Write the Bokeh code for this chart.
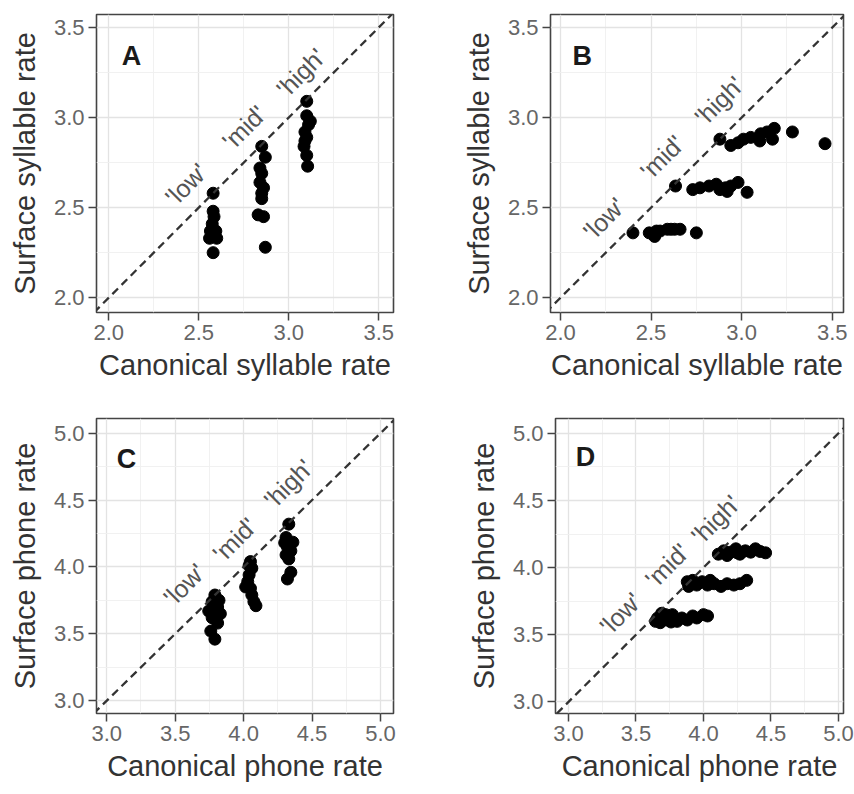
from bokeh.plotting import figure
from bokeh.layouts import column, row
from bokeh.models import Slope, Label, FixedTicker, Range1d, NumeralTickFormatter
from bokeh.embed import file_html
from bokeh.resources import INLINE

# ---------------- data ----------------
group_labels = ["'low'", "'mid'", "'high'"]

# Panel A: canonical vs surface syllable rate
A_canonical = [2.58, 2.58, 2.585, 2.575, 2.565, 2.595, 2.56, 2.60, 2.58, 2.575,
               2.85, 2.87, 2.84, 2.85, 2.84, 2.86, 2.85, 2.83, 2.86, 2.87, 2.85,
               3.10, 3.10, 3.12, 3.09, 3.10, 3.085, 3.10, 3.105, 3.11, 3.09]
A_surface = [2.58, 2.48, 2.45, 2.41, 2.37, 2.37, 2.33, 2.33, 2.25, 2.36,
             2.84, 2.78, 2.72, 2.69, 2.64, 2.61, 2.58, 2.46, 2.45, 2.28, 2.55,
             3.09, 3.01, 2.98, 2.92, 2.89, 2.84, 2.79, 2.73, 2.96, 2.87]

# Panel B
B_canonical = [2.40, 2.49, 2.52, 2.55, 2.59, 2.63, 2.66, 2.75, 2.53, 2.61,
               2.635, 2.73, 2.77, 2.82, 2.86, 2.88, 2.92, 2.94, 2.98, 3.03, 2.91,
               2.88, 2.94, 2.98, 3.01, 3.05, 3.10, 3.105, 3.14, 3.18, 3.17, 3.28, 3.46]
B_surface = [2.36, 2.36, 2.34, 2.37, 2.38, 2.38, 2.38, 2.36, 2.37, 2.38,
             2.62, 2.60, 2.61, 2.62, 2.63, 2.60, 2.59, 2.62, 2.64, 2.585, 2.61,
             2.88, 2.845, 2.86, 2.88, 2.89, 2.87, 2.91, 2.92, 2.94, 2.88, 2.92, 2.855]

# Panel C
C_canonical = [3.79, 3.77, 3.81, 3.745, 3.83, 3.77, 3.81, 3.76, 3.79, 3.78, 3.82,
               4.05, 4.06, 4.04, 4.03, 4.05, 4.015, 4.06, 4.075, 4.09, 4.04,
               4.33, 4.31, 4.36, 4.32, 4.345, 4.31, 4.33, 4.345, 4.32, 4.30]
C_surface = [3.79, 3.74, 3.70, 3.67, 3.65, 3.62, 3.58, 3.52, 3.46, 3.63, 3.75,
             4.04, 3.99, 3.94, 3.89, 3.84, 3.85, 3.79, 3.74, 3.71, 4.01,
             4.32, 4.22, 4.185, 4.15, 4.12, 4.09, 4.06, 3.96, 3.91, 4.18]

# Panel D
D_canonical = [3.66, 3.69, 3.68, 3.73, 3.77, 3.805, 3.84, 3.88, 3.92, 3.95, 4.00, 4.03, 3.72, 3.645, 3.76,
               3.88, 3.92, 3.95, 3.99, 4.03, 4.08, 4.13, 4.175, 4.225, 4.27, 4.32, 4.05, 3.89,
               4.11, 4.15, 4.20, 4.24, 4.27, 4.31, 4.35, 4.385, 4.42, 4.46, 4.175, 4.25]
D_surface = [3.625, 3.66, 3.59, 3.61, 3.65, 3.60, 3.625, 3.61, 3.64, 3.625, 3.65, 3.64, 3.65, 3.60, 3.595,
             3.895, 3.905, 3.87, 3.895, 3.87, 3.88, 3.86, 3.88, 3.87, 3.88, 3.905, 3.905, 3.86,
             4.10, 4.125, 4.115, 4.14, 4.10, 4.125, 4.115, 4.14, 4.12, 4.11, 4.09, 4.11]

syl_ticks = [2.0, 2.5, 3.0, 3.5]
syl_minor = [2.25, 2.75, 3.25]
phone_ticks = [3.0, 3.5, 4.0, 4.5, 5.0]
phone_minor = [3.25, 3.75, 4.25, 4.75]

FONT = "Liberation Sans"


def panel(xs, ys, xrange_, yrange_, ticks, minor, letter, letter_xy, label_xy,
          xlabel, ylabel, width, height, left, right, top, bottom):
    p = figure(width=width, height=height, output_backend="svg", toolbar_location=None,
               x_range=Range1d(*xrange_), y_range=Range1d(*yrange_),
               min_border_left=left, min_border_right=right,
               min_border_top=top, min_border_bottom=bottom)
    p.background_fill_color = "white"
    p.border_fill_color = "white"
    p.outline_line_color = "#444444"
    p.outline_line_width = 1.6
    for ax, lab in ((p.xaxis[0], xlabel), (p.yaxis[0], ylabel)):
        ax.ticker = FixedTicker(ticks=ticks, minor_ticks=minor)
        ax.formatter = NumeralTickFormatter(format="0.0")
        ax.axis_label = lab
        ax.axis_line_color = None
        ax.major_tick_line_color = "#444444"
        ax.major_tick_line_width = 1.5
        ax.major_tick_out = 8
        ax.major_tick_in = 0
        ax.minor_tick_out = 0
        ax.minor_tick_in = 0
        ax.major_label_text_font = FONT
        ax.major_label_text_font_size = "22px"
        ax.major_label_text_color = "#666666"
        ax.major_label_standoff = 4
        ax.axis_label_text_font = FONT
        ax.axis_label_text_font_size = "29px"
        ax.axis_label_text_font_style = "normal"
        ax.axis_label_text_color = "#333333"
    p.xaxis.axis_label_standoff = 6
    p.yaxis.axis_label_standoff = 10
    p.grid.grid_line_color = "#e3e3e3"
    p.grid.grid_line_width = 1.3
    p.grid.minor_grid_line_color = "#efefef"
    p.grid.minor_grid_line_width = 0.9
    p.add_layout(Slope(gradient=1, y_intercept=0, line_color="#333333",
                       line_width=2.3, line_dash="8 5"))
    p.scatter(xs, ys, size=12, color="black")
    for txt, (lx, ly) in zip(group_labels, label_xy):
        p.add_layout(Label(x=lx, y=ly, text=txt, angle=45, angle_units="deg",
                           text_align="center", text_baseline="middle",
                           text_font=FONT, text_font_size="25px", text_color="#555555"))
    p.add_layout(Label(x=letter_xy[0], y=letter_xy[1], text=letter,
                       text_align="center", text_baseline="middle",
                       text_font=FONT, text_font_size="27px", text_font_style="bold",
                       text_color="#1a1a1a"))
    return p


pA = panel(A_canonical, A_surface, (1.932, 3.582), (1.918, 3.572), syl_ticks, syl_minor,
           "A", (2.126, 3.344), [(2.43, 2.63), (2.752, 2.946), (3.067, 3.25)],
           "Canonical syllable rate", "Surface syllable rate",
           455, 400, 96, 62, 14, 88)
pB = panel(B_canonical, B_surface, (1.945, 3.562), (1.918, 3.572), syl_ticks, syl_minor,
           "B", (2.12, 3.344), [(2.24, 2.44), (2.56, 2.78), (2.875, 3.094)],
           "Canonical syllable rate", "Surface syllable rate",
           399, 400, 95, 11, 14, 88)
pC = panel(C_canonical, C_surface, (2.925, 5.095), (2.904, 5.11), phone_ticks, phone_minor,
           "C", (3.145, 4.81), [(3.566, 3.869), (3.934, 4.205), (4.326, 4.624)],
           "Canonical phone rate", "Surface phone rate",
           455, 394, 96, 62, 15, 81)
pD = panel(D_canonical, D_surface, (2.904, 5.037), (2.914, 5.11), phone_ticks, phone_minor,
           "D", (3.126, 4.826), [(3.385, 3.66), (3.73, 4.017), (4.089, 4.36)],
           "Canonical phone rate", "Surface phone rate",
           399, 394, 100, 11, 18, 78)

layout = column(row(pA, pB), row(pC, pD))
open("out.html", "w").write(file_html(layout, INLINE))
